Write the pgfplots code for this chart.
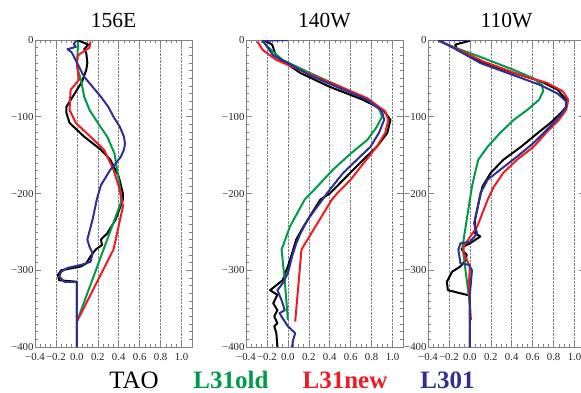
\documentclass[border=0pt]{standalone}
\usepackage{fontspec}
\setmainfont{Liberation Serif}
\usepackage{pgfplots}
\pgfplotsset{compat=1.18}
\definecolor{cgreen}{RGB}{0,155,72}
\definecolor{cred}{RGB}{237,28,36}
\definecolor{cblue}{RGB}{46,49,146}
\definecolor{frame}{RGB}{130,130,130}
\pgfplotsset{panel/.style={
  anchor=south west, width=157pt, height=307pt, scale only axis,
  xmin=-0.4, xmax=1.1, ymin=-400, ymax=0,
  xtick={-0.4,-0.2,0,0.2,0.4,0.6,0.8,1.0},
  xticklabels={\mbox{\rmfamily −0.4},\mbox{\rmfamily −0.2},\mbox{\rmfamily 0.0},\mbox{\rmfamily 0.2},\mbox{\rmfamily 0.4},\mbox{\rmfamily 0.6},\mbox{\rmfamily 0.8},\mbox{\rmfamily 1.0}},
  ytick={-400,-300,-200,-100,0},
  yticklabels={\mbox{\rmfamily −400},\mbox{\rmfamily −300},\mbox{\rmfamily −200},\mbox{\rmfamily −100},\mbox{\rmfamily 0}},
  minor x tick num=3, minor y tick num=9,
  tick align=inside,
  major tick length=6pt, minor tick length=3pt,
  xmajorgrids, grid style={densely dotted, frame, line width=0.6pt},
  axis line style={frame, line width=0.8pt}, tick style={frame, line width=0.6pt},
  tick label style={font=\fontsize{10.8}{12}\selectfont, text=black!85},
  xticklabel style={inner xsep=0pt, yshift=-3pt},
  yticklabel style={xshift=2pt},
  every axis plot/.append style={line width=2pt, line join=round, no marks},
}}
\begin{document}
\begin{tikzpicture}[x=1pt,y=1pt]
\path[use as bounding box] (0,0) rectangle (581,392);
% Panel 1
\begin{axis}[panel, at={(35pt,45pt)}]
\addplot[black] coordinates {(0,0) (0.11,-6) (0.07,-12) (0.09,-17) (0.1,-30) (0.09,-39) (0.05,-54) (-0.04,-74) (-0.1,-87) (-0.1,-95) (-0.07,-108) (0.07,-126) (0.23,-143) (0.32,-156) (0.40,-178) (0.44,-200) (0.44,-208) (0.37,-234) (0.29,-252) (0.23,-260) (0.24,-267) (0.18,-273) (0.13,-282) (0.09,-291) (0.04,-295) (-0.15,-300) (-0.18,-306) (-0.17,-313) (0,-315) (0,-400)};
\addplot[cgreen] coordinates {(0.01,-2) (0.01,-9) (0,-35) (0.04,-52) (0.07,-74) (0.12,-91) (0.2,-108) (0.29,-126) (0.36,-148) (0.39,-174) (0.42,-200) (0.42,-212) (0,-367)};
\addplot[cred] coordinates {(0.13,-2) (0.12,-10) (0.01,-20) (0,-30) (0.02,-52) (-0.06,-65) (-0.07,-91) (-0.01,-108) (0.13,-126) (0.26,-143) (0.35,-169) (0.4,-191) (0.43,-208) (0.44,-217) (0.35,-273) (0,-367)};
\addplot[cblue] coordinates {(0,0) (-0.03,-5) (-0.01,-9) (-0.09,-12) (-0.05,-16) (0.07,-48) (0.15,-61) (0.23,-74) (0.30,-87) (0.35,-100) (0.41,-113) (0.45,-126) (0.46,-135) (0.45,-143) (0.42,-152) (0.37,-161) (0.32,-169) (0.23,-189) (0.19,-208) (0.15,-234) (0.1,-260) (0.12,-269) (0.15,-278) (0.13,-289) (0.04,-293) (-0.09,-297) (-0.15,-302) (-0.17,-308) (-0.12,-315) (0,-315) (0,-400)};
\end{axis}
% Panel 2
\begin{axis}[panel, at={(246pt,45pt)}]
\addplot[black] coordinates {(-0.22,-1) (-0.15,-6) (-0.11,-22) (0.12,-43) (0.4,-61) (0.72,-78) (0.91,-91) (0.98,-104) (0.95,-121) (0.85,-139) (0.72,-156) (0.56,-178) (0.4,-200) (0.31,-208) (0.15,-243) (0.08,-260) (0.04,-278) (0,-295) (-0.05,-313) (-0.17,-326) (-0.1,-332) (-0.14,-343) (-0.1,-352) (-0.13,-360) (-0.1,-369) (-0.13,-373) (-0.11,-382) (-0.1,-400)};
\addplot[cgreen] coordinates {(-0.24,-2) (-0.16,-13) (-0.05,-26) (0.18,-41) (0.47,-59) (0.72,-74) (0.87,-89) (0.9,-100) (0.85,-113) (0.76,-130) (0.6,-148) (0.43,-169) (0.28,-191) (0.16,-208) (0.02,-243) (-0.06,-273) (-0.03,-313) (0,-365)};
\addplot[cred] coordinates {(-0.29,-2) (-0.24,-13) (-0.11,-26) (0.15,-41) (0.47,-59) (0.76,-76) (0.93,-93) (0.96,-104) (0.93,-121) (0.85,-139) (0.72,-161) (0.6,-182) (0.47,-200) (0.42,-208) (0.13,-273) (0.07,-367)};
\addplot[cblue] coordinates {(0,0) (-0.24,-1) (-0.14,-20) (0,-30) (0.21,-46) (0.5,-63) (0.76,-78) (0.9,-93) (0.92,-104) (0.87,-121) (0.79,-139) (0.66,-156) (0.53,-173) (0.4,-195) (0.33,-208) (0.19,-234) (0.12,-252) (0.08,-265) (0.04,-282) (0,-304) (-0.05,-317) (-0.1,-326) (-0.06,-339) (-0.03,-352) (-0.08,-356) (0,-373) (0.07,-382) (0.05,-391) (0.04,-400)};
\end{axis}
% Panel 3
\begin{axis}[panel, at={(428pt,45pt)}]
\addplot[black] coordinates {(0,-1) (-0.14,-6) (-0.12,-13) (0.1,-28) (0.42,-43) (0.68,-54) (0.84,-65) (0.92,-78) (0.92,-87) (0.87,-95) (0.77,-108) (0.65,-121) (0.49,-139) (0.32,-156) (0.2,-173) (0.12,-191) (0.09,-208) (0.05,-234) (0.05,-252) (0.1,-256) (0,-265) (-0.06,-269) (-0.08,-273) (-0.03,-280) (-0.04,-287) (-0.09,-295) (-0.17,-302) (-0.22,-315) (-0.21,-326) (-0.03,-332) (0,-332) (0,-400)};
\addplot[cgreen] coordinates {(-0.3,-1) (-0.12,-11) (0.1,-22) (0.42,-39) (0.61,-50) (0.69,-59) (0.7,-67) (0.66,-78) (0.55,-91) (0.42,-104) (0.29,-121) (0.17,-139) (0.08,-156) (0.05,-173) (0.02,-191) (0,-208) (-0.07,-269) (0,-345) (0,-360)};
\addplot[cred] coordinates {(-0.3,-1) (-0.1,-13) (0.13,-28) (0.49,-46) (0.74,-56) (0.89,-67) (0.94,-78) (0.92,-91) (0.85,-104) (0.74,-119) (0.61,-139) (0.45,-156) (0.32,-173) (0.23,-191) (0.17,-208) (0.07,-243) (-0.06,-269) (-0.06,-278) (0,-295) (-0.01,-321) (0.01,-365)};
\addplot[cblue] coordinates {(0,0) (-0.3,0) (-0.12,-13) (0.1,-30) (0.42,-46) (0.68,-59) (0.84,-70) (0.92,-80) (0.92,-87) (0.87,-97) (0.75,-115) (0.61,-134) (0.45,-152) (0.29,-169) (0.17,-182) (0.1,-200) (0.09,-208) (0.04,-239) (0.07,-252) (0,-263) (-0.09,-265) (-0.11,-273) (-0.09,-291) (-0.01,-293) (0.02,-300) (0,-332) (0,-400)};
\end{axis}
% Titles
\node[anchor=base, font=\fontsize{21.5}{24}\selectfont] at (113.5,364) {156E};
\node[anchor=base, font=\fontsize{21.5}{24}\selectfont] at (324.5,364) {140W};
\node[anchor=base, font=\fontsize{21.5}{24}\selectfont] at (506.5,364) {110W};
% Legend
\node[anchor=base, font=\fontsize{25}{28}\selectfont] at (134,4) {TAO};
\node[anchor=base, font=\fontsize{25}{28}\selectfont\bfseries, text=cgreen] at (231,4) {L31old};
\node[anchor=base, font=\fontsize{25}{28}\selectfont\bfseries, text=cred] at (345,4) {L31new};
\node[anchor=base, font=\fontsize{25}{28}\selectfont\bfseries, text=cblue] at (447.5,4) {L301};
\end{tikzpicture}
\end{document}
